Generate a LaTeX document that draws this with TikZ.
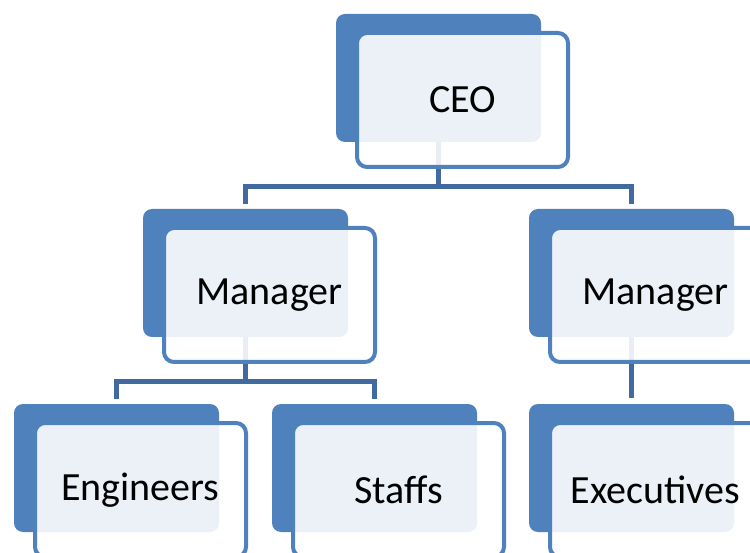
\documentclass[tikz,border=0pt]{standalone}
\usepackage{fontspec}
\setmainfont{Carlito}
\definecolor{accent}{RGB}{79,129,189}
\definecolor{connblue}{RGB}{65,106,160}
\newcommand{\boxlabel}[1]{\raisebox{-3pt}{#1}}
\begin{document}
\begin{tikzpicture}[x=1pt,y=-1pt,
  backbox/.style={anchor=north west,draw=none,fill=accent,rounded corners=9pt,
    minimum width=205pt,minimum height=128pt,inner sep=0pt,outer sep=0pt},
  frontbox/.style={anchor=north west,draw=accent,line width=4pt,fill=white,fill opacity=0.89,
    text opacity=1,rounded corners=10pt,minimum width=211pt,minimum height=134pt,
    inner sep=0pt,outer sep=0pt,font=\fontsize{40}{46}\selectfont},
  conn/.style={draw=connblue,line width=5pt}]
\useasboundingbox (0,0) rectangle (750,553);
\clip (0,0) rectangle (750,553);
% back boxes
\node[backbox] (ceoB) at (336,14) {};
\node[backbox] (mglB) at (143,209) {};
\node[backbox] (mgrB) at (529,209) {};
\node[backbox] (engB) at (14,404) {};
\node[backbox] (stfB) at (272,404) {};
\node[backbox] (exeB) at (529,404) {};
% connectors
\draw[conn] (ceoB.south) -- ++(0,44.5) coordinate (j1);
\draw[conn,shorten >=5pt] (j1) -| (mglB.north);
\draw[conn,shorten >=5pt] (j1) -| (mgrB.north);
\draw[conn] (mglB.south) -- ++(0,44.5) coordinate (j2);
\draw[conn,shorten >=5pt] (j2) -| (engB.north);
\draw[conn,shorten >=5pt] (j2) -| (stfB.north);
\draw[conn,shorten >=6pt] (mgrB.south) -- (exeB.north);
% front boxes
\node[frontbox] (ceo) at (357,33) {\boxlabel{CEO}};
\node[frontbox] (mgl) at (164,228) {\boxlabel{Manager}};
\node[frontbox] (mgr) at (550,228) {\boxlabel{Manager}};
\node[frontbox] (eng) at (35,423) {\boxlabel{Engineers}};
\node[frontbox] (stf) at (293,423) {\boxlabel{Staffs}};
\node[frontbox] (exe) at (550,423) {\boxlabel{Executives}};
\end{tikzpicture}
\end{document}
